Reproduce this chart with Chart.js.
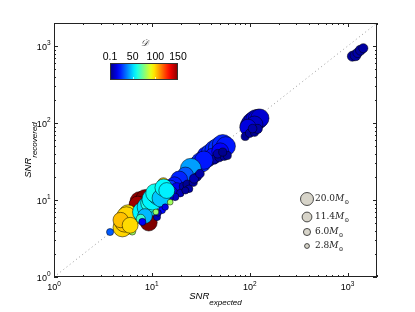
<!DOCTYPE html>
<html>
<head>
<meta charset="utf-8">
<script src="https://cdn.jsdelivr.net/npm/chart.js@4/dist/chart.umd.min.js"></script>
<style>
html,body{margin:0;padding:0;background:#fff;}
#wrap{width:415px;height:312px;position:relative;}
</style>
</head>
<body>
<div id="wrap"><canvas id="snr-graph"></canvas></div>
<script>
// one entry per injection: expected SNR, recovered SNR, distance D, mass (Msun)
var snrExpected = [
  1120, 1205, 1270, 1355, 1450,
  100, 105, 110, 116, 122, 127, 112, 96, 90, 100, 112, 121, 107,
  36, 40, 44, 48, 53, 57, 42, 50, 35, 39, 44, 49, 55, 59, 47, 53,
  13.1,
  29, 32, 34, 25, 22, 19, 17, 15.5, 18, 16, 21, 23, 26.5, 29, 24, 19.5, 17.3, 22, 15, 27, 31,
  7.6, 8.6, 7.2, 9.3,
  6.3, 4.5, 4.8,
  5.0, 5.3, 5.7, 6.2, 5.5, 4.8, 6.0,
  3.74,
  8.0, 9.0, 9.6, 10.2, 11.6, 10.8, 12.4, 13.2, 14.2, 8.5, 7.7, 12.7, 13.7, 8.0, 11.3, 11.6, 15.4, 11.0
];
var snrRecovered = [
  740, 760, 820, 887, 940,
  92, 100, 106, 110, 113, 116, 96, 88, 67, 74, 76, 84, 85,
  38, 41, 45, 48, 52, 50, 37, 43, 30, 31, 34, 36, 37, 38, 40, 42,
  16.4,
  28, 31, 33, 25.5, 21, 18.5, 15.8, 14.5, 14, 12.5, 15, 16, 17, 20, 14, 12.3, 11, 13.3, 10.8, 19, 22,
  9.5, 10.3, 8.6, 5.1,
  3.9, 4.7, 4.3,
  4.4, 5.2, 6.6, 5.8, 6.1, 5.5, 4.7,
  3.84,
  7.0, 8.1, 9.2, 10.2, 11.6, 12.3, 10.6, 14.5, 13.3, 6.2, 5.7, 7.4, 8.1, 5.2, 6.0, 6.8, 9.4, 7.0
];
var distance = [
  5, 4, 6, 4, 5,
  14, 12, 15, 13, 16, 12, 10, 14, 3, 4, 3, 5, 6,
  22, 25, 24, 26, 24, 22, 20, 18, 4, 3, 5, 3, 4, 3, 6, 2,
  100,
  26, 24, 22, 42, 32, 24, 22, 26, 16, 14, 5, 3, 4, 5, 6, 8, 10, 4, 12, 7, 6,
  148, 150, 145, 150,
  80, 55, 70,
  100, 102, 98, 97, 100, 103, 99,
  32,
  55, 52, 60, 55, 50, 58, 48, 56, 54, 46, 64, 20, 15, 18, 8, 10, 80, 78
];
var mass = [
  12, 14, 11, 12, 10,
  44, 48, 46, 50, 46, 40, 34, 32, 8, 9, 8, 10, 9,
  38, 42, 46, 48, 52, 44, 32, 34, 9, 8, 9, 10, 8, 8, 9, 8,
  16,
  42, 48, 40, 52, 32, 34, 30, 26, 18, 16, 8, 9, 8, 9, 7, 7, 7, 6, 8, 10, 9,
  50, 44, 38, 34,
  6, 6, 5,
  42, 50, 40, 36, 46, 28, 30,
  6,
  46, 50, 42, 54, 48, 42, 38, 36, 30, 26, 10, 6, 5, 6, 6, 5, 4, 4
];

var legendMass = [20.0, 11.4, 6.0, 2.8];
var cbarTicks = [0.1, 50, 100, 150];
var axisTicks = [1, 10, 100, 1000];
var axisExp = ['0', '1', '2', '3'];
var diagonal = [1, 2000];

var D_MAX = 150;

function jet(t){
  t = Math.max(0, Math.min(1, t));
  function c(v){ return Math.round(255 * Math.max(0, Math.min(1, v))); }
  var r = c(1.5 - Math.abs(4*t - 3));
  var g = c(1.5 - Math.abs(4*t - 2));
  var b = c(1.5 - Math.abs(4*t - 1));
  return 'rgb(' + r + ',' + g + ',' + b + ')';
}

function radiusOf(m){
  return 1.45 * Math.sqrt(m);
}

var points = [];
var colors = [];
for (var i = 0; i < snrExpected.length; i++) {
  points.push({x: snrExpected[i], y: snrRecovered[i], r: radiusOf(mass[i])});
  colors.push(jet(distance[i] / D_MAX));
}

var SANS = '"Liberation Sans", Arial, sans-serif';
var SERIF = '"DejaVu Serif", serif';

// colorbar, size legend, frame, inner ticks, tick labels, axis titles
var overlay = {
  id: 'overlay',
  afterDraw: function(chart){
    var ctx = chart.ctx;
    var a = chart.chartArea;
    var xs = chart.scales.x, ys = chart.scales.y;
    ctx.save();

    function seg(x1, y1, x2, y2){
      ctx.beginPath(); ctx.moveTo(x1, y1); ctx.lineTo(x2, y2); ctx.stroke();
    }

    ctx.strokeStyle = '#222';
    ctx.lineWidth = 1;
    ctx.strokeRect(a.left + 0.5, a.top + 0.5, a.right - a.left - 1, a.bottom - a.top - 1);

    for (var k = 0; k < 4; k++) {
      for (var m = 1; m < 10; m++) {
        var v = m * Math.pow(10, k);
        var len = (m == 1) ? 4 : 2;
        if (v >= xs.min && v <= xs.max) {
          var px = Math.round(xs.getPixelForValue(v)) + 0.5;
          seg(px, a.bottom, px, a.bottom - len);
          seg(px, a.top, px, a.top + len);
        }
        if (v >= ys.min && v <= ys.max) {
          var py = Math.round(ys.getPixelForValue(v)) + 0.5;
          seg(a.left, py, a.left + len, py);
          seg(a.right, py, a.right - len, py);
        }
      }
    }

    // tick labels 10^n
    ctx.fillStyle = '#000';
    ctx.textBaseline = 'alphabetic';
    ctx.textAlign = 'left';
    for (var t = 0; t < axisTicks.length; t++) {
      ctx.font = '9px ' + SANS;
      var wb = ctx.measureText('10').width;
      ctx.font = '6.5px ' + SANS;
      var we = ctx.measureText(axisExp[t]).width;
      var tx0 = xs.getPixelForValue(axisTicks[t]) - (wb + we) / 2;
      ctx.font = '9px ' + SANS;
      ctx.fillText('10', tx0, 290);
      ctx.font = '6.5px ' + SANS;
      ctx.fillText(axisExp[t], tx0 + wb, 285.5);
      var ty = ys.getPixelForValue(axisTicks[t]) + 3.5;
      var ty0 = 50.5 - wb - we;
      ctx.font = '9px ' + SANS;
      ctx.fillText('10', ty0, ty);
      ctx.font = '6.5px ' + SANS;
      ctx.fillText(axisExp[t], ty0 + wb, ty - 4.5);
    }

    // axis titles with subscripts
    ctx.font = 'italic 9.5px ' + SANS;
    var w1 = ctx.measureText('SNR').width;
    ctx.font = 'italic 8px ' + SANS;
    var w2 = ctx.measureText('expected').width;
    var cx = (a.left + a.right) / 2 - (w1 + w2) / 2;
    ctx.font = 'italic 9.5px ' + SANS;
    ctx.fillText('SNR', cx, 299);
    ctx.font = 'italic 8px ' + SANS;
    ctx.fillText('expected', cx + w1, 305);

    ctx.save();
    ctx.translate(31, (a.top + a.bottom) / 2);
    ctx.rotate(-Math.PI / 2);
    ctx.font = 'italic 9.5px ' + SANS;
    w1 = ctx.measureText('SNR').width;
    ctx.font = 'italic 8px ' + SANS;
    w2 = ctx.measureText('recovered').width;
    ctx.font = 'italic 9.5px ' + SANS;
    ctx.fillText('SNR', -(w1 + w2) / 2, 0);
    ctx.font = 'italic 8px ' + SANS;
    ctx.fillText('recovered', -(w1 + w2) / 2 + w1, 6);
    ctx.restore();

    // colorbar
    var cbx = 110, cby = 63, cbw = 68, cbh = 17;
    var grad = ctx.createLinearGradient(cbx, 0, cbx + cbw, 0);
    for (var s = 0; s <= 20; s++) grad.addColorStop(s / 20, jet(s / 20));
    ctx.fillStyle = grad;
    ctx.fillRect(cbx, cby, cbw, cbh);
    ctx.strokeStyle = '#333';
    ctx.strokeRect(cbx + 0.5, cby + 0.5, cbw - 1, cbh - 1);
    ctx.font = '10.5px ' + SANS;
    ctx.textAlign = 'center';
    ctx.fillStyle = '#000';
    ctx.strokeStyle = 'rgba(255,255,255,0.7)';
    for (var j = 0; j < cbarTicks.length; j++) {
      var cx2 = cbx + (cbarTicks[j] - cbarTicks[0]) / (D_MAX - cbarTicks[0]) * cbw;
      ctx.fillText(String(cbarTicks[j]), cx2, cby - 3);
      if (j > 0 && j < cbarTicks.length - 1) seg(Math.round(cx2) + 0.5, cby + cbh - 3, Math.round(cx2) + 0.5, cby + cbh - 1);
    }
    ctx.font = 'italic 9px ' + SERIF;
    ctx.fillStyle = '#333';
    ctx.fillText('\ud835\udc9f', cbx + cbw / 2, 46);

    // size legend
    var ly = [199, 217, 232, 246];
    for (var n = 0; n < legendMass.length; n++) {
      ctx.beginPath();
      ctx.arc(307, ly[n], radiusOf(legendMass[n]), 0, Math.PI * 2);
      ctx.fillStyle = '#d7d4c9';
      ctx.fill();
      ctx.lineWidth = 0.8;
      ctx.strokeStyle = '#222';
      ctx.stroke();
      ctx.fillStyle = '#222';
      ctx.textAlign = 'left';
      ctx.textBaseline = 'middle';
      ctx.font = '9px ' + SERIF;
      var lbl = legendMass[n].toFixed(1);
      ctx.fillText(lbl, 315, ly[n]);
      var lx = 315 + ctx.measureText(lbl).width;
      ctx.font = 'italic 9px ' + SERIF;
      ctx.fillText('M', lx, ly[n]);
      lx += ctx.measureText('M').width;
      ctx.font = '6px ' + SERIF;
      ctx.fillText('\u2299', lx, ly[n] + 3);
    }

    ctx.restore();
  }
};

var ctx = document.getElementById('snr-graph').getContext('2d');
var snrChart = new Chart(ctx, {
  type: 'bubble',
  data: {
    datasets: [
      {
        label: 'injections',
        data: points,
        backgroundColor: colors,
        borderColor: 'rgba(0,0,0,0.85)',
        borderWidth: 0.6,
        clip: false
      },
      {
        type: 'line',
        label: 'y = x',
        data: [{x: diagonal[0], y: diagonal[0]}, {x: diagonal[1], y: diagonal[1]}],
        borderColor: '#999',
        borderWidth: 1,
        borderDash: [1, 3],
        pointRadius: 0,
        fill: false
      }
    ]
  },
  options: {
    responsive: true,
    maintainAspectRatio: false,
    animation: false,
    events: [],
    layout: {padding: {left: 0, top: 23, right: 38, bottom: 0}},
    plugins: {legend: {display: false}, tooltip: {enabled: false}},
    scales: {
      x: {
        type: 'logarithmic',
        min: 1, max: 2000,
        grid: {display: false, drawTicks: false},
        border: {display: false},
        afterFit: function(s){ s.height = 35; },
        ticks: {display: false}
      },
      y: {
        type: 'logarithmic',
        min: 1, max: 2000,
        grid: {display: false, drawTicks: false},
        border: {display: false},
        afterFit: function(s){ s.width = 54; },
        ticks: {display: false}
      }
    }
  },
  plugins: [overlay]
});
</script>
</body>
</html>
